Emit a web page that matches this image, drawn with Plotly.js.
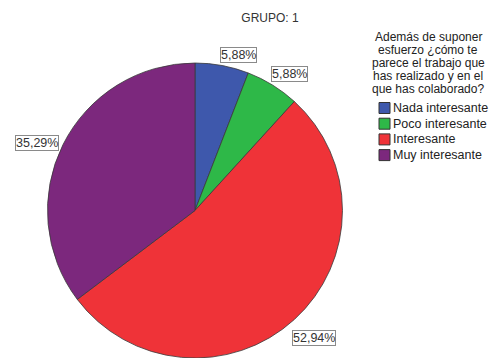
<!DOCTYPE html>
<html>
<head>
<meta charset="utf-8">
<script src="https://cdn.plot.ly/plotly-3.0.1.min.js"></script>
<style>html,body{margin:0;padding:0;background:#fff;}#chart{width:494px;height:358px;}</style>
</head>
<body>
<div id="chart"></div>
<script>
const categories = ["Nada interesante", "Poco interesante", "Interesante", "Muy interesante"];
const counts = [1, 1, 9, 6];
const colors = ["#3E58AC", "#2EB848", "#EF3338", "#7C287D"];
const chartTitle = "GRUPO: 1";
const legendTitleLines = ["Además de suponer", "esfuerzo ¿cómo te", "parece el trabajo que", "has realizado y en el", "que has colaborado?"];

const W = 494, H = 358;
const FONT = 'Liberation Sans, Arial, sans-serif';
const domX = [0.0951, 0.6943], domY = [0, 0.824];
const cx = (domX[0] + domX[1]) / 2 * W;
const domH = (domY[1] - domY[0]) * H;
const r = Math.min((domX[1] - domX[0]) * W, domH) / 2;
const cy = H - (domY[0] * H + domH / 2);

const total = counts.reduce((a, b) => a + b, 0);
const annotations = [];
const shapes = [];
let cum = 0;
counts.forEach((v, i) => {
  const frac = v / total;
  const mid = (cum + frac / 2) * 2 * Math.PI;
  cum += frac;
  const s = Math.sin(mid), c = Math.cos(mid);
  const px = cx + r * s, py = cy - r * c;
  const txt = (frac * 100).toFixed(2).replace('.', ',') + '%';
  annotations.push({
    text: txt, x: px / W, y: 1 - py / H, xref: 'paper', yref: 'paper',
    xanchor: s >= 0 ? 'left' : 'right',
    yanchor: c > 0.5 ? 'bottom' : (c < -0.5 ? 'top' : 'middle'),
    xshift: s >= 0 ? -2 : -4, yshift: c > 0.5 ? 3 : (c < -0.5 ? -10 : 2),
    showarrow: false, bgcolor: '#ffffff', bordercolor: '#8a8a8a', borderwidth: 1, borderpad: 0,
    font: {family: FONT, size: 12.5, color: '#333333'}
  });
});
legendTitleLines.forEach((t, i) => {
  annotations.push({
    text: t, x: 428 / W, y: 1 - (37 + i * 13) / H, xref: 'paper', yref: 'paper',
    xanchor: 'center', yanchor: 'middle', showarrow: false,
    font: {family: FONT, size: 12, color: '#222222'}
  });
});
// legend (entries built from categories/colors)
categories.forEach((cat, i) => {
  const yc = 108 + i * 15.7;
  shapes.push({
    type: 'rect', xref: 'paper', yref: 'paper',
    x0: 379 / W, x1: 390 / W, y0: 1 - (yc - 5.5) / H, y1: 1 - (yc + 5.5) / H,
    fillcolor: colors[i], line: {color: '#333333', width: 1}
  });
  annotations.push({
    text: cat, x: 391 / W, y: 1 - yc / H, xref: 'paper', yref: 'paper',
    xanchor: 'left', yanchor: 'middle', showarrow: false,
    font: {family: FONT, size: 12.5, color: '#222222'}
  });
});

const data = [{
  type: 'pie', labels: categories, values: counts, sort: false, direction: 'clockwise', rotation: 0,
  marker: {colors: colors, line: {color: '#3a3a3a', width: 0.8}},
  textinfo: 'none', hoverinfo: 'none', domain: {x: domX, y: domY}
}];

const layout = {
  width: W, height: H, margin: {l: 0, r: 0, t: 0, b: 0},
  paper_bgcolor: '#ffffff', plot_bgcolor: '#ffffff',
  title: {text: chartTitle, x: 270 / W, xanchor: 'center', y: 1 - 18 / H, yanchor: 'middle',
          font: {family: FONT, size: 12, color: '#333333'}},
  showlegend: false,
  annotations: annotations,
  shapes: shapes
};
Plotly.newPlot('chart', data, layout, {staticPlot: true, displayModeBar: false});
</script>
</body>
</html>
